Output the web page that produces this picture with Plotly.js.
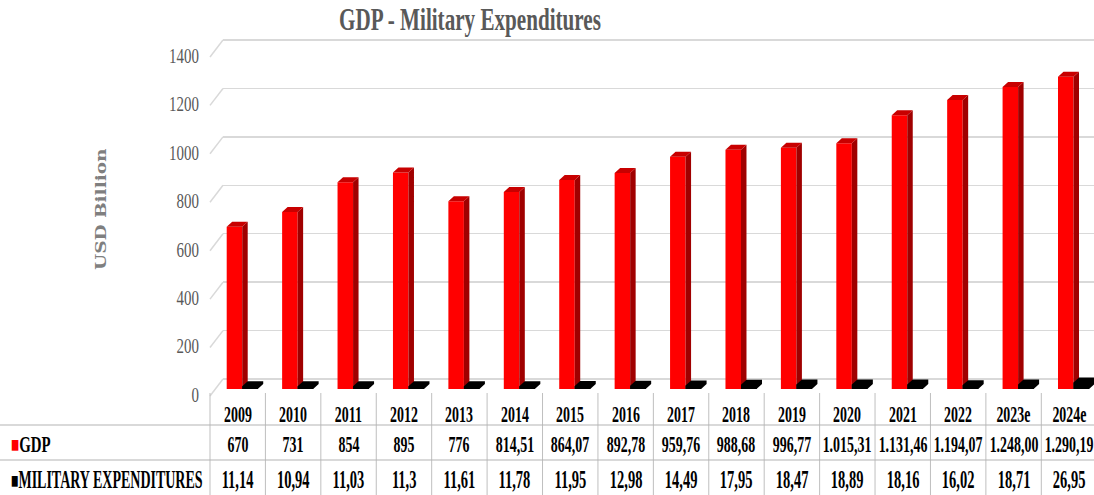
<!DOCTYPE html>
<html><head><meta charset="utf-8">
<script src="https://cdn.plot.ly/plotly-3.0.1.min.js"></script>
<style>html,body{margin:0;padding:0;background:#fff}#chart{width:1094px;height:495px}</style>
</head><body><div id="chart"></div>
<script>
// ---- data ----
const years = ['2009','2010','2011','2012','2013','2014','2015','2016','2017','2018','2019','2020','2021','2022','2023e','2024e'];
const gdp = [670, 731, 854, 895, 776, 814.51, 864.07, 892.78, 959.76, 988.68, 996.77, 1015.31, 1131.46, 1194.07, 1248.00, 1290.19];
const military = [11.14, 10.94, 11.03, 11.3, 11.61, 11.78, 11.95, 12.98, 14.49, 17.95, 18.47, 18.89, 18.16, 16.02, 18.71, 26.95];
const gdpLabels = ['670','731','854','895','776','814,51','864,07','892,78','959,76','988,68','996,77','1.015,31','1.131,46','1.194,07','1.248,00','1.290,19'];
const militaryLabels = ['11,14','10,94','11,03','11,3','11,61','11,78','11,95','12,98','14,49','17,95','18,47','18,89','18,16','16,02','18,71','26,95'];
const yTicks = [0, 200, 400, 600, 800, 1000, 1200, 1400];
const seriesNames = ['GDP', 'MILITARY EXPENDITURES'];

// ---- geometry helpers (layout only) ----
const W = 1094, H = 495;
const px = v => v / W;
const py = v => (H - v) / H;
const BAR_W = 0.28, RED_OFF = -0.1985, BLK_OFF = RED_OFF + BAR_W, DX = 0.099, DY = 20.6;
const idx = years.map((_, i) => i);

function sidePolys(vals, off) {
  const xs = [], ys = [];
  vals.forEach((v, i) => {
    const xr = i + off + BAR_W;
    xs.push(xr, xr + DX, xr + DX, xr, null);
    ys.push(0, DY, v + DY, v, null);
  });
  return {xs, ys};
}
function topPolys(vals, off) {
  const xs = [], ys = [];
  vals.forEach((v, i) => {
    const xl = i + off, xr = xl + BAR_W;
    xs.push(xl, xr, xr + DX, xl + DX, null);
    ys.push(v, v, v + DY, v + DY, null);
  });
  return {xs, ys};
}
function blockPolys(vals, off) {
  const xs = [], ys = [];
  vals.forEach((v, i) => {
    const xl = i + off, xr = xl + BAR_W;
    xs.push(xl, xr, xr + DX, xr + DX, xl + DX, xl, null);
    ys.push(0, 0, DY, v + DY, v + DY, v, null);
  });
  return {xs, ys};
}
const rs = sidePolys(gdp, RED_OFF), rt = topPolys(gdp, RED_OFF), bb = blockPolys(military, BLK_OFF);
const poly = (p, color) => ({type:'scatter', x:p.xs, y:p.ys, xaxis:'x2', yaxis:'y2', mode:'lines',
  fill:'toself', fillcolor:color, line:{width:0, color:color}, hoverinfo:'skip', showlegend:false});

const data = [
  {type:'scatter', x:[], y:[], xaxis:'x', yaxis:'y', mode:'lines', hoverinfo:'skip', showlegend:false},
  {type:'bar', name:seriesNames[0], x:idx, y:gdp, xaxis:'x2', yaxis:'y2', width:BAR_W, offset:RED_OFF,
    marker:{color:'#ff0000', line:{width:0}}, showlegend:false},
  {type:'bar', name:seriesNames[1], x:idx, y:military, xaxis:'x2', yaxis:'y2', width:BAR_W, offset:BLK_OFF,
    marker:{color:'#000000', line:{width:0}}, showlegend:false},
  poly(rs, '#a00000'),
  poly(rt, '#c80000'),
  poly(bb, '#000000')
];

const TF = 'Liberation Serif';
const shapes = [];
yTicks.forEach(v => shapes.push({type:'line', xref:'paper', yref:'y', x0:px(210), y0:v - 70, x1:px(223), y1:v,
  line:{color:'#d9d9d9', width:1.5}, layer:'below'}));
for (let k = 0; k < years.length; k++) shapes.push({type:'line', xref:'x2', yref:'paper', x0:k - 0.5, x1:k - 0.5,
  y0:0, y1:py(393), line:{color:'#bfbfbf', width:1}});
[425, 460].forEach(y => shapes.push({type:'line', xref:'paper', yref:'paper', x0:0, x1:1, y0:py(y), y1:py(y),
  line:{color:'#b3b3b3', width:1}}));

const annotations = [], annSq = [];
const cellFont = (s) => ({family:TF, size:s, color:'#000000', weight:'bold'});
const cell = (t, i, y, s) => ({xref:'x2', yref:'paper', x:i, y:py(y), xanchor:'center', yanchor:'middle', text:t, showarrow:false, font:cellFont(s)});
years.forEach((t, i) => { annotations.push(cell(t, i, 414, 24)); annSq.push({sx:0.58, sy:1, mode:'middle'}); });
gdpLabels.forEach((t, i) => { annotations.push(cell(t, i, 444, 24)); annSq.push({sx:0.58, sy:1, mode:'middle'}); });
militaryLabels.forEach((t, i) => { annotations.push(cell(t, i, 479, 25)); annSq.push({sx:0.58, sy:1, mode:'middle'}); });
annotations.push({xref:'paper', yref:'paper', x:px(9), y:py(444), xanchor:'left', yanchor:'middle', align:'left', showarrow:false,
  text:"<span style='color:#ff0000;font-size:22px'>■</span>" + seriesNames[0], font:cellFont(24)});
annSq.push({sx:0.62, sy:1, mode:'start'});
annotations.push({xref:'paper', yref:'paper', x:px(9), y:py(479), xanchor:'left', yanchor:'middle', align:'left', showarrow:false,
  text:"<span style='color:#000000;font-size:22px'>■</span>" + seriesNames[1], font:cellFont(25)});
annSq.push({sx:0.56, sy:1, mode:'start'});
annotations.push({xref:'paper', yref:'paper', x:px(101), y:py(209), xanchor:'center', yanchor:'middle', textangle:-90, showarrow:false, text:'USD Billion',
  font:{family:'DejaVu Serif', size:18.5, color:'#7f7f7f', weight:'bold'}});
annSq.push({sx:1, sy:0.75, mode:'middle'});

const layout = {
  width:W, height:H, margin:{l:0, r:0, t:0, b:0, pad:0},
  paper_bgcolor:'#ffffff', plot_bgcolor:'rgba(0,0,0,0)',
  barmode:'overlay', showlegend:false,
  title:{text:'GDP - Military Expenditures', x:px(470), xref:'paper', xanchor:'center', y:1 - 19 / H, yref:'container', yanchor:'middle',
    font:{family:TF, size:32, color:'#595959', weight:'bold'}},
  xaxis:{domain:[px(223), 1], range:[0, 1], visible:false, anchor:'y', fixedrange:true},
  yaxis:{domain:[py(398.4), py(37.6)], range:[-80, 1410], tickmode:'array', tickvals:yTicks, showgrid:true,
    gridcolor:'#d9d9d9', gridwidth:1.5, showticklabels:false, zeroline:false, showline:false, ticks:'', anchor:'x', fixedrange:true},
  xaxis2:{domain:[px(208), 1], range:[-0.536, 15.451], visible:false, anchor:'y2', fixedrange:true},
  yaxis2:{domain:[py(389), py(50.2)], range:[0, 1400], tickmode:'array', tickvals:yTicks, ticktext:yTicks.map(String),
    showgrid:false, zeroline:false, showline:false, ticks:'', anchor:'x2', ticklabelshift:5, ticklabelstandoff:8,
    tickfont:{family:TF, size:22, color:'#595959'}, fixedrange:true},
  shapes, annotations
};

const gd = document.getElementById('chart');
function sq(el, sx, sy, mode) {
  const b = el.getBBox();
  const ax = mode === 'middle' ? b.x + b.width / 2 : mode === 'end' ? b.x + b.width : b.x;
  const ay = b.y + b.height / 2;
  const t = el.getAttribute('transform') || '';
  el.setAttribute('transform', t + ' translate(' + ax + ',' + ay + ') scale(' + sx + ',' + sy + ') translate(' + (-ax) + ',' + (-ay) + ')');
}
Plotly.newPlot(gd, data, layout, {staticPlot:true, displayModeBar:false}).then(() => {
  gd.querySelectorAll('.gtitle').forEach(el => sq(el, 0.66, 1, 'middle'));
  gd.querySelectorAll('.yaxislayer-above text').forEach(el => sq(el, 0.68, 1, 'end'));
  gd.querySelectorAll('.annotation').forEach(g => {
    const k = +g.getAttribute('data-index');
    const t = g.querySelector('text');
    const s = annSq[k];
    if (!t || !s) return;
    if (s.ls) t.style.letterSpacing = s.ls;
    sq(t, s.sx, s.sy, s.mode);
  });
});
</script></body></html>
